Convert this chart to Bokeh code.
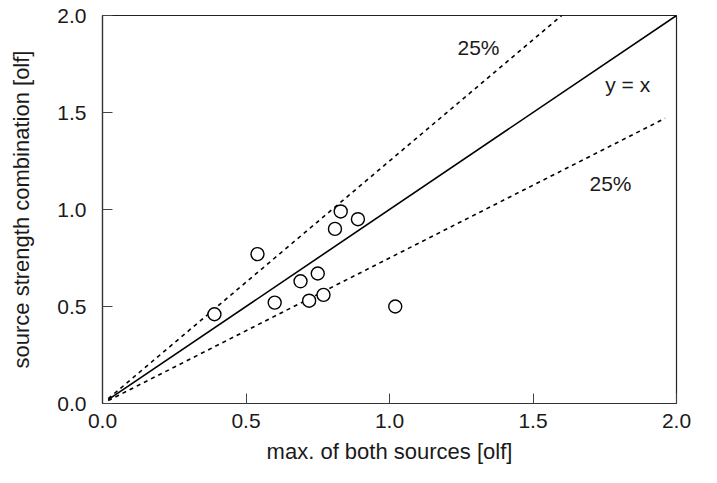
from bokeh.plotting import figure
from bokeh.models import Range1d, FixedTicker, PrintfTickFormatter, Label
from bokeh.embed import file_html
from bokeh.resources import INLINE

# Data
max_both = [0.39, 0.54, 0.60, 0.69, 0.75, 0.72, 0.77, 0.81, 0.83, 0.89, 1.02]
combination = [0.46, 0.77, 0.52, 0.63, 0.67, 0.53, 0.56, 0.90, 0.99, 0.95, 0.50]

ident_x = [0.02, 2.0]
ident_y = [0.02, 2.0]
upper_x = [0.02, 1.6]
upper_y = [0.025, 2.0]
lower_x = [0.02, 1.96]
lower_y = [0.015, 1.47]

ticks = [0.0, 0.5, 1.0, 1.5, 2.0]

FONT = "Liberation Sans"
TXT = "#1a1a1a"

p = figure(frame_width=574, frame_height=388,
           min_border_left=102, min_border_right=25,
           min_border_top=15, min_border_bottom=64,
           x_range=Range1d(0, 2), y_range=Range1d(0, 2),
           output_backend="svg", toolbar_location=None)

p.background_fill_color = "white"
p.border_fill_color = "white"
p.outline_line_color = "#222222"
p.outline_line_width = 1.2
p.xgrid.grid_line_color = None
p.ygrid.grid_line_color = None

for ax in (p.xaxis[0], p.yaxis[0]):
    ax.ticker = FixedTicker(ticks=ticks)
    ax.formatter = PrintfTickFormatter(format="%.1f")
    ax.minor_tick_line_color = None
    ax.major_tick_in = 10
    ax.major_tick_out = 0
    ax.major_tick_line_color = "#444444"
    ax.axis_line_color = "#333333"
    ax.axis_line_width = 1.2
    ax.major_label_text_font = FONT
    ax.major_label_text_font_size = "21px"
    ax.major_label_text_color = TXT
    ax.axis_label_text_font = FONT
    ax.axis_label_text_font_size = "22px"
    ax.axis_label_text_font_style = "normal"
    ax.axis_label_text_color = TXT

p.xaxis.axis_label = "max. of both sources [olf]"
p.yaxis.axis_label = "source strength combination [olf]"
p.xaxis.major_label_standoff = 10
p.xaxis.axis_label_standoff = 8
p.yaxis.major_label_standoff = 16
p.yaxis.axis_label_standoff = 20

p.line(ident_x, ident_y, line_color="black", line_width=1.6)
p.line(upper_x, upper_y, line_color="black", line_width=1.6, line_dash="4 4")
p.line(lower_x, lower_y, line_color="black", line_width=1.6, line_dash="4 4")

p.scatter(max_both, combination, marker="circle", size=13,
          fill_color="white", line_color="black", line_width=1.4)

for (tx, ty, t) in [(1.31, 1.835, "25%"), (1.83, 1.645, "y = x"), (1.77, 1.134, "25%")]:
    p.add_layout(Label(x=tx, y=ty, text=t, text_align="center", text_baseline="middle",
                       text_font=FONT, text_font_size="21px", text_color=TXT))

open("out.html", "w").write(file_html(p, INLINE))
